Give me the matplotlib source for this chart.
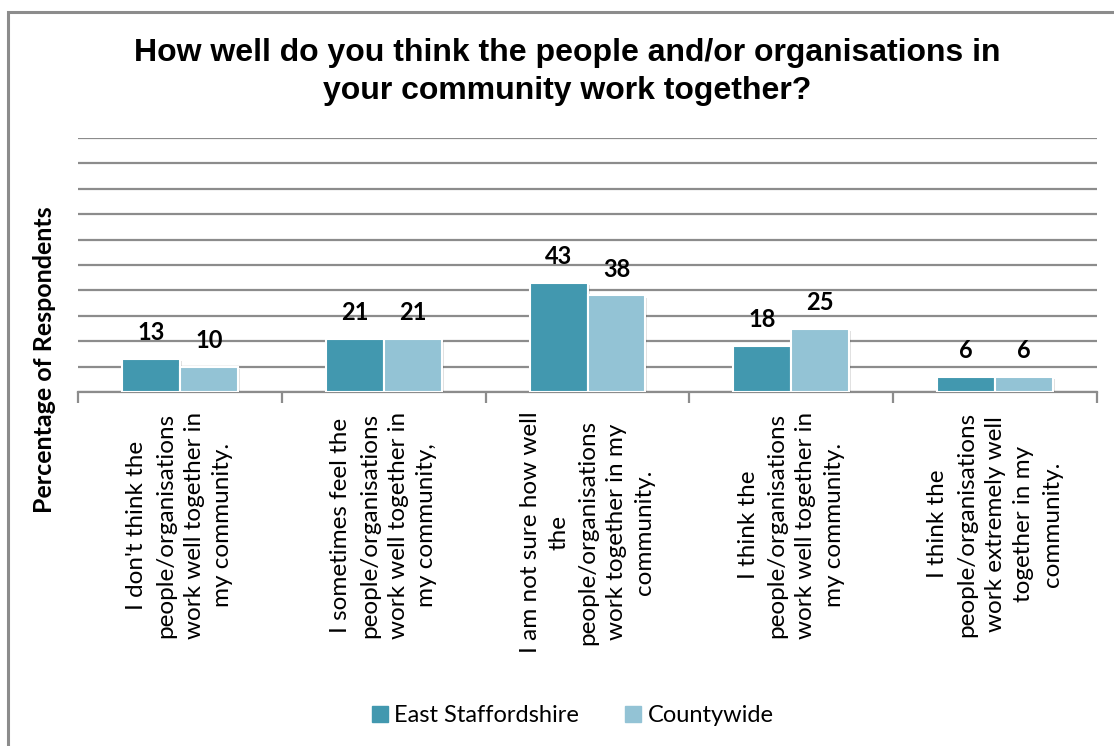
import numpy as np
import matplotlib
matplotlib.use("Agg")
import matplotlib.pyplot as plt
import matplotlib.patheffects as pe
from matplotlib.patches import Rectangle
from matplotlib.lines import Line2D

categories = [
    "I don't think the\npeople/organisations\nwork well together in\nmy community.",
    "I sometimes feel the\npeople/organisations\nwork well together in\nmy community,",
    "I am not sure how well\nthe\npeople/organisations\nwork together in my\ncommunity.",
    "I think the\npeople/organisations\nwork well together in\nmy community.",
    "I think the\npeople/organisations\nwork extremely well\ntogether in my\ncommunity.",
]
east_staffs = [13, 21, 43, 18, 6]
countywide = [10, 21, 38, 25, 6]
series_names = ["East Staffordshire", "Countywide"]
colors = ["#4298AF", "#93C3D5"]

plt.rcParams['font.family'] = ['Lato', 'DejaVu Sans']

fig = plt.figure(figsize=(11.14, 7.46), dpi=100)
ax = fig.add_axes([78 / 1114, 1 - 392 / 746, (1097 - 78) / 1114, (392 - 138) / 746])

# outer frame of the chart area (only left and top show in the picture)
fig.patches.append(Rectangle((8 / 1114, -0.05), 1.2, 1 - 12 / 746 + 0.05, transform=fig.transFigure,
                             fill=False, edgecolor="#8c8c8c", linewidth=2.2))

x = np.arange(len(categories))
w = 0.284
shadow = [pe.SimplePatchShadow(offset=(1.5, -1.5), shadow_rgbFace="#000000", alpha=0.12), pe.Normal()]
for vals, off, c in [(east_staffs, -w / 2, colors[0]), (countywide, w / 2, colors[1])]:
    bars = ax.bar(x + off, vals, width=w, color=c, edgecolor="white", linewidth=1.5, zorder=3)
    for b in bars:
        b.set_path_effects(shadow)
    for xi, v in zip(x + off, vals):
        ax.annotate(str(v), (xi, v), xytext=(0, 19), textcoords="offset points",
                    ha="center", va="center", fontsize=17, fontweight="bold", color="black")

ax.set_ylim(0, 100)
ax.set_xlim(-0.5, len(categories) - 0.5)
ax.set_yticks(np.arange(0, 101, 10))
ax.set_yticklabels([])
ax.tick_params(axis="y", length=0)
ax.grid(axis="y", color="#8c8c8c", linewidth=1.6, zorder=0)
ax.set_axisbelow(True)
for s in ["left", "right", "top"]:
    ax.spines[s].set_visible(False)
ax.spines["bottom"].set_color("#8c8c8c")
ax.spines["bottom"].set_linewidth(1.6)

ax.set_xticks(x)
ax.set_xticklabels(categories, rotation=90, ha="center", va="top", fontsize=17.5,
                   multialignment="center", linespacing=1.45)
ax.tick_params(axis="x", length=0, pad=14)
ax.set_xticks(np.arange(-0.5, len(categories)), minor=True)
ax.tick_params(axis="x", which="minor", length=8, width=1.6, color="#8c8c8c")

fig.text(567 / 1114, 1 - 72 / 746, "How well do you think the people and/or organisations in\nyour community work together?",
         ha="center", va="center", fontsize=23, fontweight="bold", family="Liberation Sans", linespacing=1.38)
fig.text(45 / 1114, 1 - 360 / 746, "Percentage of Respondents", rotation=90, ha="center", va="center",
         fontsize=18, fontweight="bold")

handles = [Line2D([], [], marker="s", linestyle="none", markersize=12, markerfacecolor=c, markeredgecolor=c)
           for c in colors]
fig.legend(handles, series_names, loc="center", bbox_to_anchor=(571 / 1114, 1 - 716 / 746), ncol=2,
           frameon=False, fontsize=17, handletextpad=0.1, columnspacing=1.8, handlelength=1.0)

fig.savefig("out.png", dpi=100)
